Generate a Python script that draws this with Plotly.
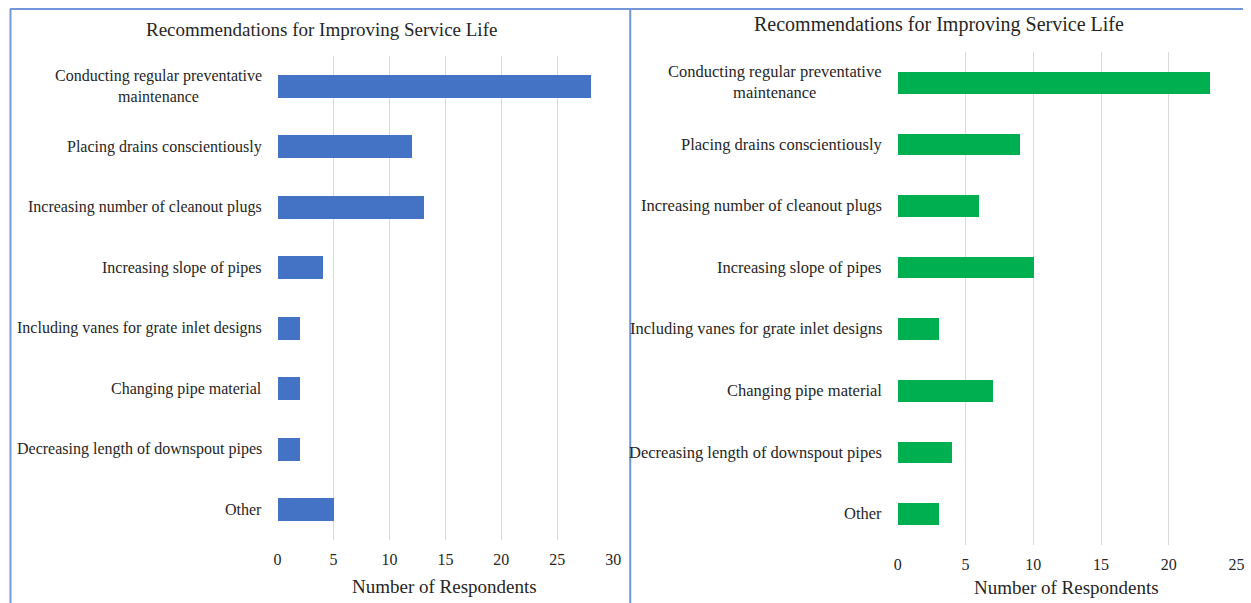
import plotly.graph_objects as go

# Survey categories (top to bottom) and respondent counts for the two groups
categories = [
    "Conducting regular preventative<br>maintenance",
    "Placing drains conscientiously",
    "Increasing number of cleanout plugs",
    "Increasing slope of pipes",
    "Including vanes for grate inlet designs",
    "Changing pipe material",
    "Decreasing length of downspout pipes",
    "Other",
]
left_counts = [28, 12, 13, 4, 2, 2, 2, 5]
right_counts = [23, 9, 6, 10, 3, 7, 4, 3]

left_ticks = [0, 5, 10, 15, 20, 25, 30]
right_ticks = [0, 5, 10, 15, 20, 25]

chart_title = "Recommendations for Improving Service Life"
x_title = "Number of Respondents"

W, H = 1251, 603
XS = 0.994  # horizontal layout scale
SERIF = "Liberation Serif, Times New Roman, serif"
TEXT = "#262626"
GRID = "#D9D9D9"
FRAME = "#7296D8"


def px_x(p):
    return min(p / (W * XS), 1.0)


def px_y(p):
    return 1 - p / H


fig = go.Figure()

fig.add_trace(go.Bar(
    x=left_counts, y=categories, orientation="h",
    marker=dict(color="#4472C4", line=dict(width=0)),
    width=0.38, xaxis="x", yaxis="y", showlegend=False,
))
fig.add_trace(go.Bar(
    x=right_counts, y=categories, orientation="h",
    marker=dict(color="#00B050", line=dict(width=0)),
    width=0.35, xaxis="x2", yaxis="y2", showlegend=False,
))

xcommon = dict(
    showgrid=True, gridcolor=GRID, gridwidth=1, zeroline=False,
    showline=False, ticks="outside", ticklen=0, ticklabelstandoff=5,
    tickfont=dict(family=SERIF, size=16, color=TEXT), fixedrange=True,
)
ycommon = dict(
    type="category", categoryorder="array", categoryarray=categories,
    autorange="reversed", showgrid=False, zeroline=False, showline=False,
    showticklabels=False, ticks="",
)

fig.update_layout(
    width=W, height=H,
    margin=dict(l=0, r=0, t=0, b=0),
    paper_bgcolor="white", plot_bgcolor="white",
    bargap=0,
    xaxis=dict(domain=[px_x(274.5), px_x(611.5)], range=[0, 30],
               tickvals=left_ticks, anchor="y", **xcommon),
    yaxis=dict(domain=[px_y(540), px_y(56)], anchor="x", **ycommon),
    xaxis2=dict(domain=[px_x(897), px_x(1237)], range=[0, 25],
                tickvals=right_ticks, anchor="y2", **xcommon),
    yaxis2=dict(domain=[px_y(544.5), px_y(51.7)], anchor="x2", **ycommon),
)

annotations = []
# Category labels, right-aligned next to each panel with centred line breaks
for cat in categories:
    annotations.append(dict(
        text=cat, x=px_x(260.5), xref="paper", y=cat, yref="y",
        xanchor="right", yanchor="middle", align="center", showarrow=False,
        font=dict(family=SERIF, size=16, color=TEXT),
    ))
    annotations.append(dict(
        text=cat, x=px_x(883), xref="paper", y=cat, yref="y2",
        xanchor="right", yanchor="middle", align="center", showarrow=False,
        font=dict(family=SERIF, size=16.5, color=TEXT),
    ))

# Panel titles and axis titles
annotations += [
    dict(text=chart_title, x=px_x(318.5), y=px_y(29), xref="paper", yref="paper",
         xanchor="center", yanchor="middle", showarrow=False,
         font=dict(family=SERIF, size=19, color=TEXT)),
    dict(text=chart_title, x=px_x(938), y=px_y(24), xref="paper", yref="paper",
         xanchor="center", yanchor="middle", showarrow=False,
         font=dict(family=SERIF, size=20, color=TEXT)),
    dict(text=x_title, x=px_x(442.5), y=px_y(586), xref="paper", yref="paper",
         xanchor="center", yanchor="middle", showarrow=False,
         font=dict(family=SERIF, size=19, color=TEXT)),
    dict(text=x_title, x=px_x(1066), y=px_y(587), xref="paper", yref="paper",
         xanchor="center", yanchor="middle", showarrow=False,
         font=dict(family=SERIF, size=19, color=TEXT)),
]
fig.update_layout(annotations=annotations)

# Frame around the two panels
frame_line = dict(color=FRAME, width=2)
fig.update_layout(shapes=[
    dict(type="line", xref="paper", yref="paper",
         x0=px_x(6), x1=1, y0=px_y(9), y1=px_y(9), line=frame_line),
    dict(type="line", xref="paper", yref="paper",
         x0=px_x(6.5), x1=px_x(6.5), y0=px_y(9), y1=0, line=frame_line),
    dict(type="line", xref="paper", yref="paper",
         x0=px_x(628.5), x1=px_x(628.5), y0=px_y(9), y1=0, line=frame_line),
])

fig.write_html("out.html")
